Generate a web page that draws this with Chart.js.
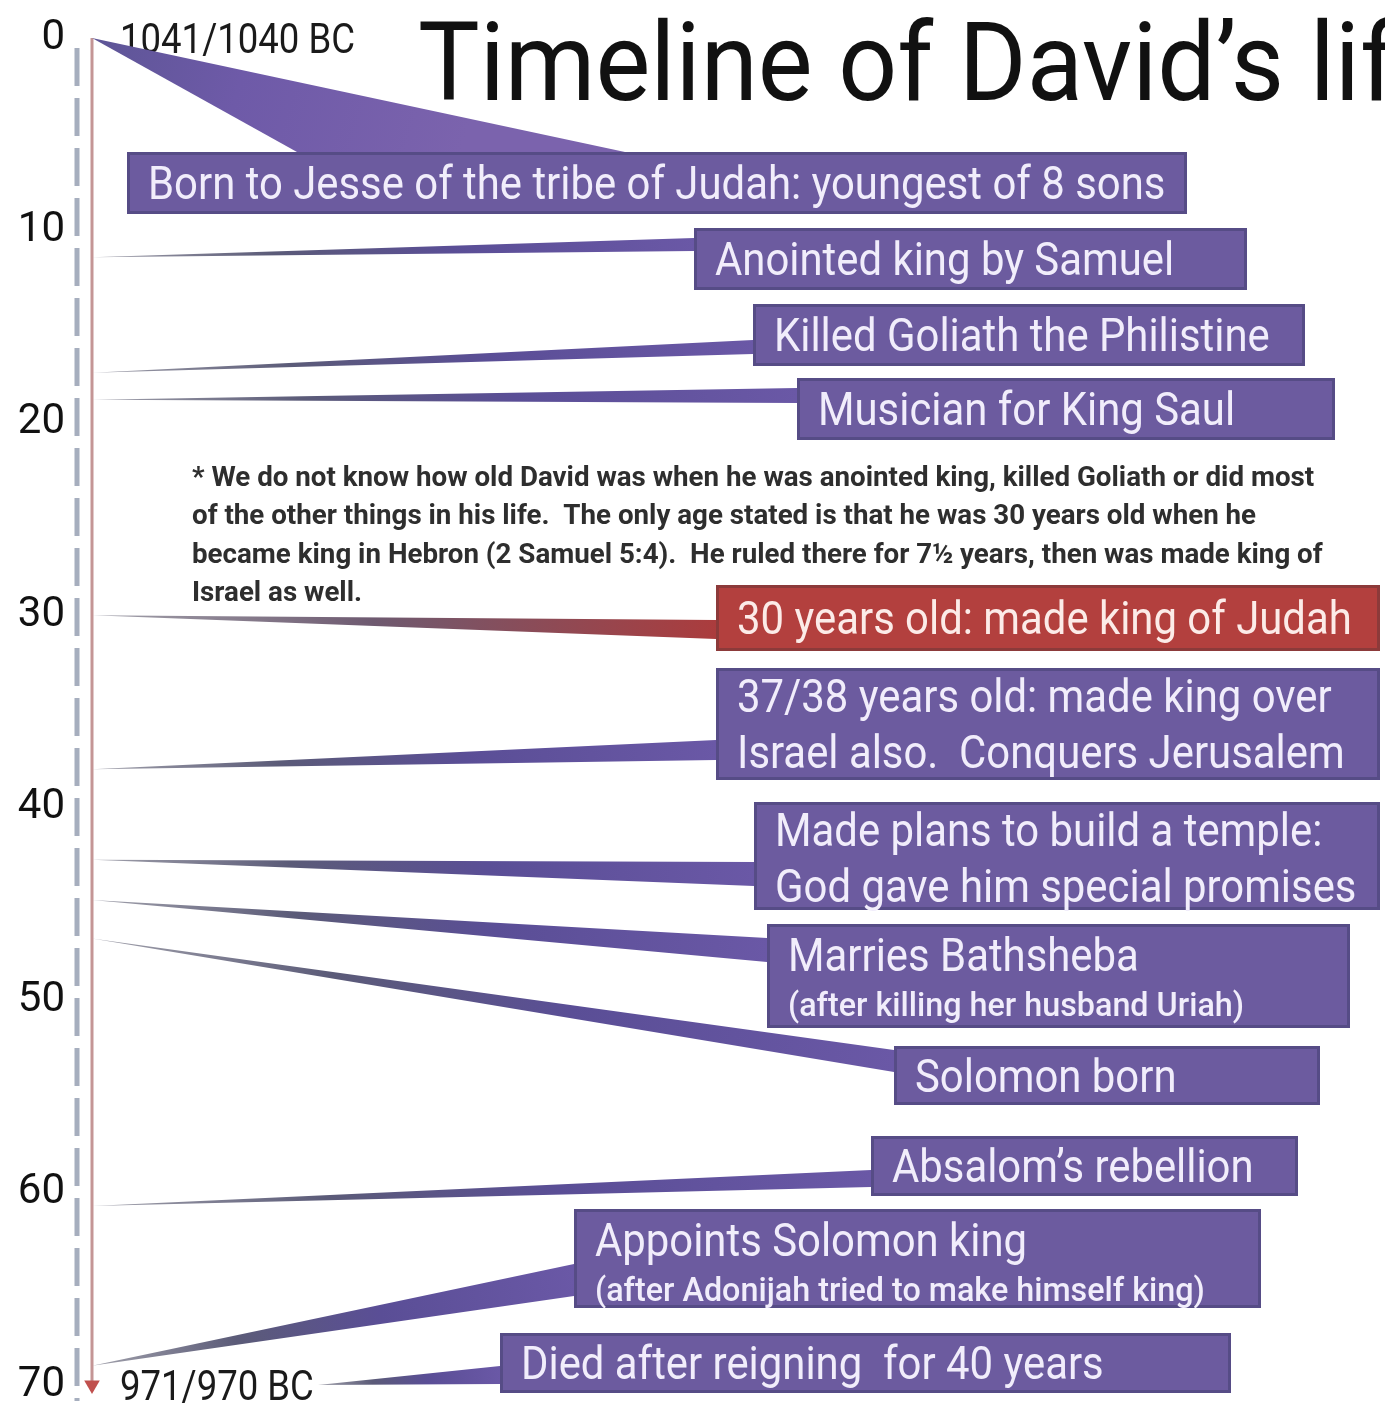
<!DOCTYPE html>
<html>
<head>
<meta charset="utf-8">
<title>Timeline of David's life</title>
<script src="https://cdn.jsdelivr.net/npm/chart.js@4.4.1/dist/chart.umd.min.js"></script>
<style>
  html, body { margin: 0; padding: 0; background: #fff; }
  #wrap { width: 1385px; height: 1411px; }
</style>
</head>
<body>
<div id="wrap"><canvas id="timeline" width="1385" height="1411"></canvas></div>
<script>
// age (years) where each event meets the life line
const eventAges = [0, 11.4, 17.4, 18.8, 30, 38, 42.7, 44.8, 46.8, 60.7, 69, 70];
const eventTitles = [
    'Born to Jesse of the tribe of Judah: youngest of 8 sons',
    'Anointed king by Samuel',
    'Killed Goliath the Philistine',
    'Musician for King Saul',
    '30 years old: made king of Judah',
    '37/38 years old: made king over',
    'Made plans to build a temple:',
    'Marries Bathsheba',
    'Solomon born',
    'Absalom’s rebellion',
    'Appoints Solomon king',
    'Died after reigning  for 40 years'
];
const eventSecondLines = [
    '', '', '', '', '',
    'Israel also.  Conquers Jerusalem',
    'God gave him special promises',
    '(after killing her husband Uriah)',
    '', '',
    '(after Adonijah tried to make himself king)',
    ''
];
const ageTicks = [0, 10, 20, 30, 40, 50, 60, 70];
const lifeSpan = [0, 70];
const startLabel = '1041/1040 BC';
const endLabel = '971/970 BC';
const titleText = 'Timeline of David’s life';
const noteLines = [
    '* We do not know how old David was when he was anointed king, killed Goliath or did most',
    'of the other things in his life.  The only age stated is that he was 30 years old when he',
    'became king in Hebron (2 Samuel 5:4).  He ruled there for 7½ years, then was made king of',
    'Israel as well.'
];

// box layout in canvas pixels (l, t, r, b) and where the wedge meets the box
const boxes = [
    { l: 127, t: 152, r: 1187, b: 214, base: [297, 152, 625, 152], soft: true },
    { l: 694, t: 228, r: 1247, b: 290, base: [694, 238, 694, 251] },
    { l: 753, t: 304, r: 1305, b: 366, base: [753, 340, 753, 354] },
    { l: 797, t: 378, r: 1335, b: 440, base: [797, 388, 797, 403] },
    { l: 716, t: 585, r: 1380, b: 651, base: [716, 620, 716, 639], red: true },
    { l: 716, t: 668, r: 1380, b: 780, base: [716, 740, 716, 760] },
    { l: 754, t: 802, r: 1380, b: 910, base: [754, 862, 754, 886] },
    { l: 767, t: 924, r: 1350, b: 1028, base: [767, 938, 767, 962], small: true },
    { l: 894, t: 1046, r: 1320, b: 1105, base: [894, 1050, 894, 1072] },
    { l: 871, t: 1136, r: 1298, b: 1196, base: [871, 1170, 871, 1187] },
    { l: 574, t: 1209, r: 1261, b: 1308, base: [574, 1264, 574, 1296], small: true },
    { l: 500, t: 1333, r: 1231, b: 1393, base: [500, 1366, 500, 1384], tipX: 318 }
];

const FONT = 'Roboto, "Liberation Sans", sans-serif';
const SQUEEZE = 0.91;

function narrowText(ctx, text, x, y, size, weight, color, squeeze) {
    ctx.save();
    ctx.font = weight + ' ' + size + 'px ' + FONT;
    ctx.fillStyle = color;
    ctx.textAlign = 'left';
    ctx.textBaseline = 'alphabetic';
    ctx.translate(x, y + size * 0.355);
    ctx.scale(squeeze, 1);
    ctx.fillText(text, 0, 0);
    ctx.restore();
}

function drawWedge(ctx, tx, ty, box) {
    const [x1, y1, x2, y2] = box.base;
    const mx = (x1 + x2) / 2, my = (y1 + y2) / 2;
    const grad = ctx.createLinearGradient(tx, ty, mx, my);
    if (box.soft) {
        grad.addColorStop(0, '#5d5596');
        grad.addColorStop(0.4, '#6e5aa8');
        grad.addColorStop(1, '#7b63ad');
    } else if (box.red) {
        grad.addColorStop(0, '#a2a2ac');
        grad.addColorStop(0.45, '#6e5a70');
        grad.addColorStop(1, '#ab3c3d');
    } else {
        grad.addColorStop(0, '#a2a2ac');
        grad.addColorStop(0.3, '#5b5b78');
        grad.addColorStop(0.6, '#5a4e96');
        grad.addColorStop(1, '#6a58a6');
    }
    ctx.beginPath();
    ctx.moveTo(tx, ty);
    ctx.lineTo(x1, y1);
    ctx.lineTo(x2, y2);
    ctx.closePath();
    ctx.fillStyle = grad;
    ctx.fill();
}

const timelinePlugin = {
    id: 'timelineBoxes',
    beforeDatasetsDraw(chart) {
        const { ctx, chartArea } = chart;
        // dashed guide left of the life line
        ctx.save();
        ctx.strokeStyle = '#a6aebe';
        ctx.lineWidth = 5;
        ctx.setLineDash([38, 12]);
        ctx.beginPath();
        ctx.moveTo(chartArea.left - 15, chartArea.top + 10);
        ctx.lineTo(chartArea.left - 15, chartArea.bottom + 16);
        ctx.stroke();
        ctx.restore();
    },
    afterDatasetsDraw(chart) {
        const { ctx, scales } = chart;
        const y = scales.y, x = scales.x;
        const lineX = x.getPixelForValue(0);

        // title (runs off the right edge, as in the original)
        narrowText(ctx, titleText, 418, 61, 110, 400, '#111', 0.94);

        // start / end dates
        narrowText(ctx, startLabel, 120, y.getPixelForValue(lifeSpan[0]), 42, 400, '#1a1a1a', 0.87);
        narrowText(ctx, endLabel, 120, y.getPixelForValue(lifeSpan[1]), 42, 400, '#1a1a1a', 0.87);

        // footnote
        noteLines.forEach((line, i) => {
            narrowText(ctx, line, 192, 476 + i * 38.5, 28, 700, '#2e2e2e', 0.99);
        });

        // wedges first, then boxes on top
        eventAges.forEach((age, i) => {
            const box = boxes[i];
            const tx = box.tipX !== undefined ? box.tipX : lineX;
            drawWedge(ctx, tx, y.getPixelForValue(age), box);
        });

        eventAges.forEach((age, i) => {
            const box = boxes[i];
            const w = box.r - box.l, h = box.b - box.t;
            ctx.save();
            ctx.fillStyle = box.red ? '#b3403e' : '#6c5b9f';
            ctx.fillRect(box.l, box.t, w, h);
            ctx.strokeStyle = box.red ? '#8c3a3a' : '#564c86';
            ctx.lineWidth = 3;
            ctx.strokeRect(box.l + 1.5, box.t + 1.5, w - 3, h - 3);
            ctx.restore();

            const textColor = box.red ? '#fcebe8' : '#f1edfb';
            const tx = box.l + 21;
            const second = eventSecondLines[i];
            if (!second) {
                narrowText(ctx, eventTitles[i], tx, box.t + h / 2, 46, 400, textColor, SQUEEZE);
            } else if (box.small) {
                narrowText(ctx, eventTitles[i], tx, box.t + 31, 46, 400, textColor, SQUEEZE);
                narrowText(ctx, second, tx, box.t + 80, 34, 500, textColor, 0.95);
            } else {
                narrowText(ctx, eventTitles[i], tx, box.t + 28, 46, 400, textColor, SQUEEZE);
                narrowText(ctx, second, tx, box.t + 84, 46, 400, textColor, SQUEEZE);
            }
        });
    }
};

const ctx = document.getElementById('timeline').getContext('2d');
new Chart(ctx, {
    type: 'line',
    data: {
        datasets: [{
            label: 'Life line',
            data: [{ x: 0, y: lifeSpan[0] }, { x: 0, y: lifeSpan[1] }],
            borderColor: '#c49595',
            borderWidth: 3,
            pointRadius: [0, 9],
            pointStyle: 'triangle',
            pointRotation: 180,
            pointBackgroundColor: '#c0504d',
            pointBorderWidth: 0,
            clip: false
        }]
    },
    options: {
        responsive: false,
        animation: false,
        devicePixelRatio: 1,
        layout: { padding: { top: 38, bottom: 26, left: 0, right: 0 } },
        plugins: { legend: { display: false }, tooltip: { enabled: false } },
        scales: {
            x: { type: 'linear', min: 0, max: 100, display: false },
            y: {
                type: 'linear',
                reverse: true,
                min: ageTicks[0],
                max: ageTicks[ageTicks.length - 1],
                afterBuildTicks: (scale) => { scale.ticks = ageTicks.map(v => ({ value: v })); },
                afterFit: (scale) => {
                    scale.width = 92;
                    scale.paddingTop = 0;
                    scale.paddingBottom = 0;
                },
                grid: { display: false, drawTicks: false },
                border: { display: false },
                ticks: {
                    padding: 27,
                    color: '#111',
                    font: { family: FONT, size: 42, weight: 400 }
                }
            }
        }
    },
    plugins: [timelinePlugin]
});
</script>
</body>
</html>
